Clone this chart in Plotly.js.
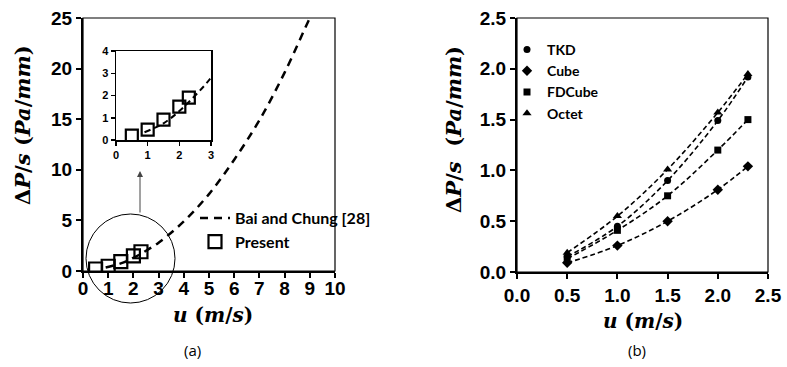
<!DOCTYPE html>
<html>
<head>
<meta charset="utf-8">
<script src="https://cdn.plot.ly/plotly-3.0.1.min.js"></script>
<style>html,body{margin:0;padding:0;background:#fff;}#chart{width:787px;height:367px;}</style>
</head>
<body>
<div id="chart"></div>
<script>
// ---- Data: panel (a) ----
var baiU = [0.9, 1.5, 2.0, 2.5, 3.0, 4.0, 5.0, 6.0, 7.0, 8.0, 9.0, 9.3];
var baiY = [0.35, 0.75, 1.3, 2.0, 2.8, 4.9, 7.6, 11.0, 14.9, 19.6, 25.0, 26.5];
var presentU = [0.5, 1.0, 1.5, 2.0, 2.3];
var presentY = [0.2, 0.47, 0.92, 1.5, 1.9];
var aXTicks = [0,1,2,3,4,5,6,7,8,9,10];
var aYTicks = [0,5,10,15,20,25];
var insetXTicks = [0,1,2,3];
var insetYTicks = [0,1,2,3,4];

// ---- Data: panel (b) ----
var bU = [0.5, 1.0, 1.5, 2.0, 2.3];
var tkdY = [0.15, 0.45, 0.90, 1.49, 1.92];
var cubeY = [0.09, 0.26, 0.50, 0.81, 1.04];
var fdcubeY = [0.13, 0.41, 0.75, 1.20, 1.50];
var octetY = [0.19, 0.55, 1.01, 1.57, 1.95];
var bTicks = [0, 0.5, 1.0, 1.5, 2.0, 2.5];

var W = 787, H = 367;
function px(x){return x/W;}
function py(y){return (H-y)/H;}

var tickFont = {family:'Liberation Sans, Arial, sans-serif', size:19, color:'#000', weight:700};
var titleFont = {family:'DejaVu Serif, serif', size:21, color:'#000', weight:700};
var xTitleFont = {family:'DejaVu Serif, serif', size:20, color:'#000', weight:700};
var legFont = {family:'Lato, sans-serif', size:16, color:'#000', weight:700};
var legFont2 = {family:'Lato, sans-serif', size:14, color:'#000', weight:700};

var dashA = {color:'#000', width:2.5, dash:'8px,6px', shape:'spline'};
var dashB = {color:'#000', width:1.6, dash:'5px,3px', shape:'spline'};

var traces = [
  // panel (a) main
  {x:baiU, y:baiY, mode:'lines', name:'Bai and Chung [28]', line:dashA, xaxis:'x', yaxis:'y', legend:'legend'},
  {x:presentU, y:presentY, mode:'markers', name:'Present', xaxis:'x', yaxis:'y', legend:'legend',
   marker:{symbol:'square-open', size:13, color:'#000', line:{width:2.2, color:'#000'}}},
  // inset
  {x:baiU, y:baiY, mode:'lines', showlegend:false, line:{color:'#000', width:2, dash:'6px,4px', shape:'spline'}, xaxis:'x2', yaxis:'y2'},
  {x:presentU, y:presentY, mode:'markers', showlegend:false, xaxis:'x2', yaxis:'y2',
   marker:{symbol:'square-open', size:12, color:'#000', line:{width:2.2, color:'#000'}}},
  // panel (b) trend lines
  {x:bU, y:tkdY, mode:'lines', showlegend:false, line:dashB, xaxis:'x3', yaxis:'y3'},
  {x:bU, y:cubeY, mode:'lines', showlegend:false, line:dashB, xaxis:'x3', yaxis:'y3'},
  {x:bU, y:fdcubeY, mode:'lines', showlegend:false, line:dashB, xaxis:'x3', yaxis:'y3'},
  {x:bU, y:octetY, mode:'lines', showlegend:false, line:dashB, xaxis:'x3', yaxis:'y3'},
  // panel (b) markers
  {x:bU, y:tkdY, mode:'markers', name:'TKD', xaxis:'x3', yaxis:'y3', legend:'legend2', marker:{symbol:'circle', size:7, color:'#000'}},
  {x:bU, y:cubeY, mode:'markers', name:'Cube', xaxis:'x3', yaxis:'y3', legend:'legend2', marker:{symbol:'diamond', size:8, color:'#000'}},
  {x:bU, y:fdcubeY, mode:'markers', name:'FDCube', xaxis:'x3', yaxis:'y3', legend:'legend2', marker:{symbol:'square', size:7, color:'#000'}},
  {x:bU, y:octetY, mode:'markers', name:'Octet', xaxis:'x3', yaxis:'y3', legend:'legend2', marker:{symbol:'triangle-up', size:8, color:'#000'}}
];

function baseAxis(extra){
  var a = {showgrid:false, zeroline:false, showline:true, linecolor:'#000', linewidth:2,
    ticks:'outside', ticklen:5, tickwidth:2, tickcolor:'#000', tickfont:tickFont, fixedrange:true, automargin:false};
  for (var k in extra) a[k]=extra[k];
  return a;
}

var insetTickFont = {family:'Liberation Sans, Arial, sans-serif', size:11, color:'#000', weight:700};

function note(x, y, text, font, angle){
  return {xref:'paper', yref:'paper', x:px(x), y:py(y), xanchor:'center', yanchor:'middle',
    text:text, showarrow:false, font:font, textangle:angle||0};
}

var labelFont = {family:'Open Sans, sans-serif', size:15, color:'#000'};

var layout = {
  width:W, height:H,
  margin:{l:0,r:0,t:0,b:0},
  paper_bgcolor:'#fff', plot_bgcolor:'#fff',
  showlegend:true,
  xaxis: baseAxis({domain:[px(83),px(335)], range:[0,10], tickvals:aXTicks, anchor:'y', ticklabelstandoff:-6}),
  yaxis: baseAxis({domain:[py(271),py(18)], range:[0,25], tickvals:aYTicks, anchor:'x'}),
  xaxis2: baseAxis({domain:[px(116),px(211)], range:[0,3], tickvals:insetXTicks, anchor:'y2', linewidth:1.5, tickwidth:1.5, ticklen:4,
    tickfont:insetTickFont, mirror:true}),
  yaxis2: baseAxis({domain:[py(140),py(51)], range:[0,4], tickvals:insetYTicks, anchor:'x2', linewidth:1.5, tickwidth:1.5, ticklen:4,
    tickfont:insetTickFont, mirror:true}),
  xaxis3: baseAxis({domain:[px(517),px(768)], range:[0,2.5], tickvals:bTicks, tickformat:'.1f', anchor:'y3'}),
  yaxis3: baseAxis({domain:[py(272),py(18)], range:[0,2.5], tickvals:bTicks, tickformat:'.1f', anchor:'x3'}),
  legend:{x:px(195), y:py(201), xanchor:'left', yanchor:'top', bgcolor:'rgba(0,0,0,0)', font:legFont,
    itemwidth:30, tracegroupgap:0, borderwidth:0},
  legend2:{x:px(507), y:py(34), xanchor:'left', yanchor:'top', bgcolor:'rgba(0,0,0,0)', font:legFont2,
    itemwidth:30, tracegroupgap:0, borderwidth:0},
  shapes:[
    {type:'rect', xref:'x domain', yref:'y domain', x0:0, x1:1, y0:0, y1:1, line:{color:'#000', width:1.2}, layer:'above'},
    {type:'rect', xref:'x3 domain', yref:'y3 domain', x0:0, x1:1, y0:0, y1:1, line:{color:'#000', width:1.2}, layer:'above'},
    {type:'circle', xref:'paper', yref:'paper', x0:px(86), x1:px(175), y0:py(303), y1:py(214), line:{color:'#000', width:1}, layer:'above'}
  ],
  annotations:[
    note(22, 125, 'Δ<i>P</i>/<i>s</i> (<i>Pa</i>/<i>mm</i>)', titleFont, -90),
    note(213, 315, '<i>u</i> (<i>m</i>/<i>s</i>)', xTitleFont),
    note(453, 130, 'Δ<i>P</i>/<i>s</i>  (<i>Pa</i>/<i>mm</i>)', titleFont, -90),
    note(643, 321, '<i>u</i> (<i>m</i>/<i>s</i>)', xTitleFont),
    {xref:'paper', yref:'paper', x:px(140), y:py(171), text:'', showarrow:true, ax:0, ay:43,
     arrowhead:2, arrowsize:1.2, arrowwidth:1, arrowcolor:'#444'},
    note(192, 350, '(a)', labelFont),
    note(637, 350, '(b)', labelFont)
  ]
};

Plotly.newPlot('chart', traces, layout, {displayModeBar:false, staticPlot:true});
</script>
</body>
</html>
